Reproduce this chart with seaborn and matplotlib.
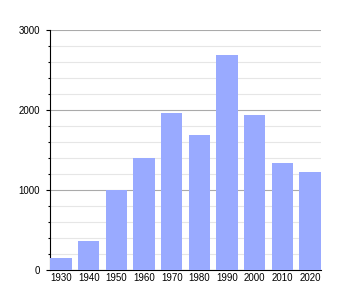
import matplotlib
matplotlib.use("Agg")
import matplotlib.pyplot as plt
import seaborn as sns
import pandas as pd
from matplotlib.ticker import MultipleLocator

years = ["1930", "1940", "1950", "1960", "1970", "1980", "1990", "2000", "2010", "2020"]
population = [150, 362, 1000, 1400, 1962, 1690, 2690, 1940, 1340, 1225]

df = pd.DataFrame({"year": years, "population": population})

sns.set_style("white")
plt.rcParams["font.family"] = ["Liberation Sans", "DejaVu Sans"]

fig = plt.figure(figsize=(3.5, 3.0), dpi=100)
ax = fig.add_axes([50 / 350, 0.1, 271 / 350, 0.8])

sns.barplot(data=df, x="year", y="population", color="#99aaff", saturation=1,
            width=0.78, ax=ax, zorder=3, edgecolor="none", linewidth=0)

ax.set_xlim(-0.4, 9.4)
ax.set_ylim(0, 3000)
ax.yaxis.set_major_locator(MultipleLocator(1000))
ax.yaxis.set_minor_locator(MultipleLocator(200))
ax.grid(which="major", axis="y", color="#aaaaaa", linewidth=0.8, zorder=0)
ax.grid(which="minor", axis="y", color="#e6e6e6", linewidth=0.8, zorder=0)
ax.grid(axis="x", visible=False)
ax.set_axisbelow(True)

for s in ["top", "right"]:
    ax.spines[s].set_visible(False)
ax.spines["left"].set_color("black")
ax.spines["bottom"].set_color("black")
ax.spines["left"].set_linewidth(0.8)
ax.spines["bottom"].set_linewidth(0.8)

ax.tick_params(axis="y", which="major", left=True, length=3, width=0.8, pad=4, labelsize=7, colors="black")
ax.tick_params(axis="y", which="minor", left=True, length=1.5, width=0.8, colors="black")
ax.tick_params(axis="x", which="both", bottom=False, length=0, pad=2, labelsize=7, colors="black")
ax.set_xlabel("")
ax.set_ylabel("")

fig.savefig("out.png", dpi=100)
